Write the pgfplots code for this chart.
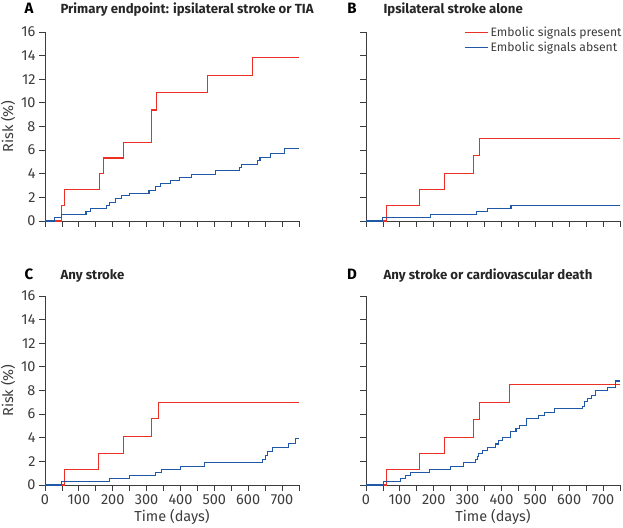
\documentclass[border=0pt]{standalone}
\usepackage{fontspec}
\setmainfont{Fira Sans}
\usepackage{pgfplots}
\pgfplotsset{compat=1.18}
\definecolor{kmred}{RGB}{236,48,38}
\definecolor{kmblue}{RGB}{32,88,168}
\definecolor{axgray}{RGB}{60,60,60}
\newcommand{\tickfont}{\fontsize{14.5}{16}\selectfont}
\newcommand{\legfont}{\fontsize{12.2}{14}\selectfont}
\newcommand{\titlefont}{\fontsize{13.2}{15}\selectfont\bfseries}
\newcommand{\letterfont}{\fontsize{15}{17}\selectfont\bfseries}
\pgfplotsset{
  every tick label/.append style={font=\tickfont, text=axgray},
  every axis label/.append style={font=\tickfont, text=axgray},
  km/.style={
    scale only axis, width=254pt, height=189pt,
    xmin=0, xmax=750, ymin=0, ymax=16,
    axis lines*=left, axis line style={axgray, line width=0.8pt},
    xtick={0,50,...,750}, ytick={0,2,...,16},
    tick style={axgray, line width=0.8pt}, tick align=outside,
    major tick length=6pt,
    /pgf/number format/assume math mode=true,
    clip=false,
  },
  xlab/.style={xticklabels={0,,100,,200,,300,,400,,500,,600,,700,,}, xlabel={Time (days)}, xlabel style={yshift=2pt}},
  ylab/.style={ylabel={Risk (\%)}, ylabel style={yshift=-1pt}},
  red/.style={kmred, line width=1.1pt, const plot},
  blue/.style={kmblue, line width=1.1pt, const plot},
}
\begin{document}
\begin{tikzpicture}
\useasboundingbox (0pt,0pt) rectangle (623pt,527pt);
% Panel A
\begin{axis}[km, at={(45pt,306pt)}, anchor=south west, ylab, xticklabels={}]
\addplot[red] coordinates {(0,0)(49,1.33)(57,2.67)(160,4.0)(174,5.33)(231,6.67)(314,9.4)(330,10.87)(481,12.33)(614,13.87)(750,13.87)};
\addplot[blue] coordinates {(0,0)(29,0.27)(50,0.53)(121,0.8)(135,1.07)(181,1.33)(190,1.6)(207,1.87)(226,2.13)(250,2.35)(307,2.6)(325,2.9)(340,3.15)(370,3.4)(398,3.65)(433,3.95)(503,4.25)(573,4.5)(580,4.8)(628,5.1)(635,5.4)(665,5.75)(707,6.1)(750,6.1)};
\end{axis}
% Panel B
\begin{axis}[km, at={(366pt,306pt)}, anchor=south west, xticklabels={}, yticklabels={},
  legend style={at={(rel axis cs:1.015,1.04)}, anchor=north east, draw=none, fill=none,
    font=\legfont, text=axgray, row sep=0pt, inner sep=0pt},
  legend cell align=left,
  legend image code/.code={\draw[#1] (0pt,0pt) -- (23pt,0pt);}]
\addplot[red] coordinates {(0,0)(61,1.33)(159,2.67)(232,4.0)(317,5.55)(336,7.0)(750,7.0)};
\addlegendentry{Embolic signals present}
\addplot[blue] coordinates {(0,0)(49,0.27)(190,0.53)(325,0.8)(358,1.07)(428,1.33)(750,1.33)};
\addlegendentry{Embolic signals absent}
\end{axis}
% Panel C
\begin{axis}[km, at={(45pt,42pt)}, anchor=south west, ylab, xlab]
\addplot[red] coordinates {(0,0)(57,1.33)(158,2.67)(232,4.07)(315,5.6)(335,7.0)(750,7.0)};
\addplot[blue] coordinates {(0,0)(49,0.27)(191,0.53)(250,0.8)(326,1.07)(345,1.33)(400,1.6)(470,1.87)(643,2.13)(651,2.5)(657,2.8)(671,3.2)(718,3.55)(740,3.95)(750,3.95)};
\end{axis}
% Panel D
\begin{axis}[km, at={(366pt,42pt)}, anchor=south west, xlab, yticklabels={}]
\addplot[red] coordinates {(0,0)(61,1.33)(157,2.67)(232,4.0)(317,5.55)(336,7.0)(423,8.54)(750,8.54)};
\addplot[blue] coordinates {(0,0)(51,0.27)(103,0.53)(117,0.8)(132,1.07)(188,1.33)(250,1.6)(287,1.87)(324,2.13)(328,2.4)(333,2.67)(345,2.93)(360,3.2)(383,3.47)(390,3.73)(403,4.0)(427,4.5)(443,4.8)(454,5.07)(473,5.6)(510,5.87)(526,6.13)(557,6.5)(640,6.67)(645,7.07)(655,7.33)(665,7.6)(677,8.0)(714,8.27)(738,8.8)(750,8.8)};
\end{axis}
% Titles
\node[anchor=base, font=\letterfont] at (29pt,513pt) {A};
\node[anchor=base west, font=\titlefont, text=black!85] at (57pt,513pt) {Primary endpoint: ipsilateral stroke or TIA};
\node[anchor=base, font=\letterfont] at (352pt,513pt) {B};
\node[anchor=base west, font=\titlefont, text=black!85] at (380pt,513pt) {Ipsilateral stroke alone};
\node[anchor=base, font=\letterfont] at (29pt,247pt) {C};
\node[anchor=base west, font=\titlefont, text=black!85] at (57pt,247pt) {Any stroke};
\node[anchor=base, font=\letterfont] at (352pt,247pt) {D};
\node[anchor=base west, font=\titlefont, text=black!85] at (380pt,247pt) {Any stroke or cardiovascular death};
\end{tikzpicture}
\end{document}
